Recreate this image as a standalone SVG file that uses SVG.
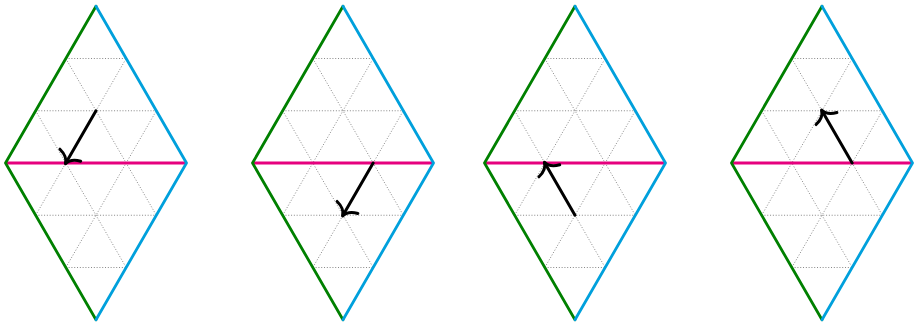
<svg xmlns="http://www.w3.org/2000/svg" xmlns:xlink="http://www.w3.org/1999/xlink" width="914" height="326" viewBox="0 0 914 326">
  <style>
    .grid { fill: none; stroke: #6a6a6a; stroke-width: 0.8; stroke-dasharray: 1 1.8; }
    .gr { fill: none; stroke: #008000; stroke-width: 2.8; stroke-linejoin: round; stroke-linecap: round; }
    .bl { fill: none; stroke: #00a0dc; stroke-width: 2.8; stroke-linejoin: round; stroke-linecap: round; }
    .mg { fill: none; stroke: #e6007e; stroke-width: 2.8; }
    .arr { fill: none; stroke: #000; stroke-width: 3; stroke-linecap: round; marker-end: url(#to); }
  </style>
  <defs>
    <marker id="to" markerUnits="userSpaceOnUse" viewBox="-12 -14 16 28" refX="0" refY="0" markerWidth="16" markerHeight="28" orient="auto" overflow="visible">
      <path d="M -9,-12 Q -6.5,-2 0.8,0 Q -6.5,2 -9,12" fill="none" stroke="#000" stroke-width="3" stroke-linecap="round" stroke-linejoin="round"/>
    </marker>
    <g id="rhombus">
      <path class="grid" d="M -30.17,-104.5 H 30.17 M -60.33,-52.25 H 60.33 M -60.33,52.25 H 60.33 M -30.17,104.5 H 30.17 M -60.33,52.25 L 30.17,-104.5 M -30.17,104.5 L 60.33,-52.25 M -30.17,-104.5 L 60.33,52.25 M -60.33,-52.25 L 30.17,104.5"/>
      <path class="mg" d="M -90.5,0 H 90.5"/>
      <path class="gr" d="M 0,-156.75 L -90.5,0 L 0,156.75"/>
      <path class="bl" d="M 0,-156.75 L 90.5,0 L 0,156.75"/>
    </g>
  </defs>
  <g id="diamond-1" transform="translate(96,163)">
    <use xlink:href="#rhombus"/>
    <path class="arr" d="M 0,-52.25 L -30.17,0"/>
  </g>
  <g id="diamond-2" transform="translate(343,163)">
    <use xlink:href="#rhombus"/>
    <path class="arr" d="M 30.17,0 L 0,52.25"/>
  </g>
  <g id="diamond-3" transform="translate(575,163)">
    <use xlink:href="#rhombus"/>
    <path class="arr" d="M 0,52.25 L -30.17,0"/>
  </g>
  <g id="diamond-4" transform="translate(822,163)">
    <use xlink:href="#rhombus"/>
    <path class="arr" d="M 30.17,0 L 0,-52.25"/>
  </g>
</svg>
